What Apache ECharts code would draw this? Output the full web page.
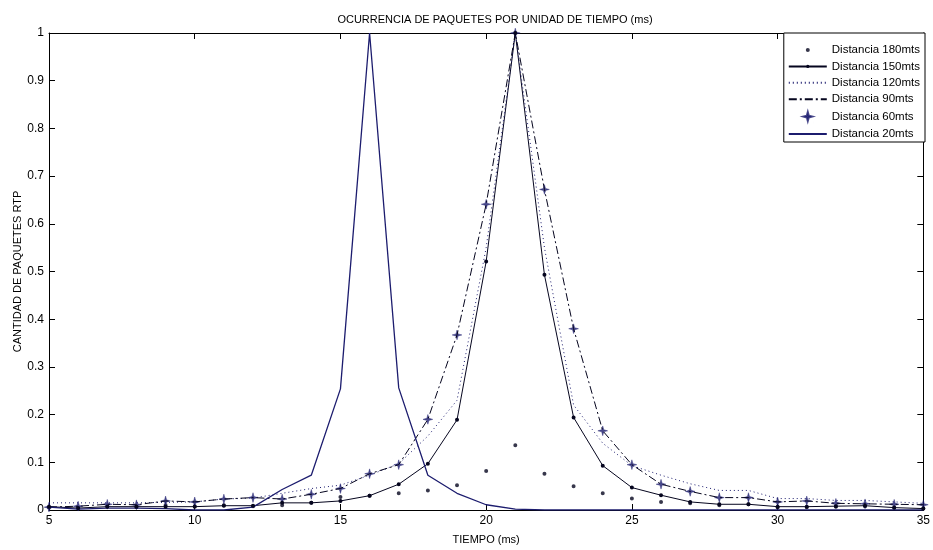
<!DOCTYPE html>
<html>
<head>
<meta charset="utf-8">
<title>Ocurrencia de paquetes</title>
<script src="https://cdn.jsdelivr.net/npm/echarts@6/dist/echarts.min.js"></script>
<style>
  html, body { margin: 0; padding: 0; background: #fff; }
  #chart { width: 933px; height: 550px; }
</style>
</head>
<body>
<div id="chart"></div>
<script>
// eje x: tiempo (ms)
const tiempo = [5, 6, 7, 8, 9, 10, 11, 12, 13, 14, 15, 16, 17, 18, 19, 20,
  21, 22, 23, 24, 25, 26, 27, 28, 29, 30, 31, 32, 33, 34, 35];

// valores
const d180 = [0.005, 0.003, 0.008, 0.006, 0.010, 0.008, 0.010, 0.008, 0.010, 0.015, 0.027, 0.030,
  0.035, 0.041, 0.052, 0.082, 0.136, 0.076, 0.050, 0.035, 0.024, 0.017, 0.014, 0.010,
  0.012, 0.005, 0.006, 0.007, 0.008, 0.004, 0.003];
const d150 = [0.007, 0.004, 0.007, 0.007, 0.007, 0.007, 0.009, 0.009, 0.015, 0.015, 0.019, 0.030,
  0.054, 0.097, 0.189, 0.521, 1.0, 0.493, 0.194, 0.093, 0.047, 0.031, 0.017, 0.012,
  0.012, 0.007, 0.007, 0.008, 0.009, 0.005, 0.003];
const d120 = [0.015, 0.015, 0.015, 0.015, 0.016, 0.017, 0.023, 0.025, 0.035, 0.045, 0.052, 0.073,
  0.097, 0.155, 0.230, 0.550, 1.0, 0.550, 0.220, 0.140, 0.093, 0.073, 0.055, 0.041,
  0.041, 0.024, 0.024, 0.020, 0.020, 0.017, 0.014];
const d90 = [0.006, 0.008, 0.012, 0.011, 0.019, 0.017, 0.023, 0.026, 0.023, 0.033, 0.045, 0.076,
  0.095, 0.190, 0.367, 0.641, 1.0, 0.672, 0.380, 0.166, 0.095, 0.054, 0.039, 0.026,
  0.026, 0.017, 0.019, 0.014, 0.013, 0.012, 0.011];
const d60 = [0.006, 0.008, 0.012, 0.011, 0.019, 0.017, 0.023, 0.026, 0.023, 0.033, 0.045, 0.076,
  0.095, 0.190, 0.367, 0.641, 1.0, 0.672, 0.380, 0.166, 0.095, 0.054, 0.039, 0.026,
  0.026, 0.017, 0.019, 0.014, 0.013, 0.012, 0.011];
const d20 = [0.006, 0.002, 0.004, 0.004, 0.003, 0.0, 0.0, 0.006, 0.043, 0.073, 0.254, 1.0,
  0.256, 0.073, 0.035, 0.011, 0.002, 0.0, 0.0, 0.0, 0.0, 0.0, 0.0, 0.0,
  0.0, 0.0, 0.0, 0.0, 0.0, 0.0, 0.0];

const xTicks = [5, 35, 5];      // min, max, intervalo
const yTicks = [0, 1, 0.1];

const pares = (vals) => tiempo.map((t, i) => [t, vals[i]]);

const NAVY = "#1c1c6e";
const DARK = "#05051e";
const FONT = "Liberation Sans, Arial, sans-serif";

// punto pequeño dentro de una caja cuadrada (para que la leyenda no lo agrande)
const punto = "path://M-6,-6 L-5.99,-6 M6,6 L5.99,6 M-2,0 A2,2 0 1 1 2,0 A2,2 0 1 1 -2,0 Z";
// estrella de 4 puntas (marcador '*' de matlab), tambien con margen
const estrella = "path://M-8,-8 L-7.99,-8 M8,8 L7.99,8 M0,-6 L1.3,-1.3 L6,0 L1.3,1.3 L0,6 L-1.3,1.3 L-6,0 L-1.3,-1.3 Z";

const chart = echarts.init(document.getElementById("chart"));

const ejeX = (pos, labels) => ({
  type: "value",
  position: pos,
  min: xTicks[0],
  max: xTicks[1],
  interval: xTicks[2],
  axisLine: { show: true, onZero: false, lineStyle: { color: "#000", width: 1 } },
  axisTick: { show: true, inside: true, length: 6, lineStyle: { color: "#000" } },
  axisLabel: { show: labels, color: "#000", fontSize: 12, fontFamily: FONT, margin: 5 },
  splitLine: { show: false },
});

const ejeY = (pos, labels) => ({
  type: "value",
  position: pos,
  min: yTicks[0],
  max: yTicks[1],
  interval: yTicks[2],
  axisLine: { show: true, onZero: false, lineStyle: { color: "#000", width: 1 } },
  axisTick: { show: true, inside: true, length: 6, lineStyle: { color: "#000" } },
  axisLabel: {
    show: labels, color: "#000", fontSize: 12, fontFamily: FONT, margin: 5,
    formatter: (v) => (Math.round(v * 10) / 10).toString(),
  },
  splitLine: { show: false },
});

const sinMarca = { opacity: 0 };

const option = {
  animation: false,
  backgroundColor: "#fff",
  title: {
    text: "OCURRENCIA DE PAQUETES POR UNIDAD DE TIEMPO (ms)",
    left: 490,
    top: 9,
    textAlign: "center",
    textStyle: { fontSize: 11, fontWeight: "normal", color: "#000", fontFamily: FONT },
  },
  grid: { left: 49, right: 1, top: 33, bottom: 35 },
  legend: {
    orient: "vertical",
    right: 8,
    top: 33,
    backgroundColor: "#fff",
    borderColor: "#000",
    borderWidth: 1,
    borderRadius: 0,
    padding: [11, 5, 2, 4],
    itemWidth: 38,
    itemHeight: 12,
    itemGap: 4.4,
    textStyle: { fontSize: 11.5, color: "#000", fontFamily: FONT },
    data: [
      { name: "Distancia 180mts" },
      { name: "Distancia 150mts" },
      { name: "Distancia 120mts", itemStyle: sinMarca },
      { name: "Distancia 90mts", itemStyle: sinMarca },
      { name: "Distancia 60mts" },
      { name: "Distancia 20mts", itemStyle: sinMarca },
    ],
  },
  xAxis: [
    Object.assign(ejeX("bottom", true), {
      name: "TIEMPO (ms)",
      nameLocation: "middle",
      nameGap: 24,
      nameMoveOverlap: false,
      nameTextStyle: { fontSize: 11, color: "#000", fontFamily: FONT },
    }),
    ejeX("top", false),
  ],
  yAxis: [
    Object.assign(ejeY("left", true), {
      name: "CANTIDAD DE PAQUETES RTP",
      nameLocation: "middle",
      nameGap: 26,
      nameMoveOverlap: false,
      nameTextStyle: { fontSize: 11, color: "#000", fontFamily: FONT },
    }),
    ejeY("right", false),
  ],
  series: [
    {
      name: "Distancia 180mts",
      type: "scatter",
      data: pares(d180),
      symbol: punto,
      symbolSize: 12,
      itemStyle: { color: DARK },
    },
    {
      name: "Distancia 150mts",
      type: "line",
      data: pares(d150),
      symbol: punto,
      symbolSize: 12,
      itemStyle: { color: DARK },
      lineStyle: { color: DARK, width: 1 },
    },
    {
      name: "Distancia 120mts",
      type: "line",
      data: pares(d120),
      symbol: "none",
      itemStyle: { color: NAVY },
      lineStyle: { color: NAVY, width: 1, type: [1, 3] },
    },
    {
      name: "Distancia 90mts",
      type: "line",
      data: pares(d90),
      symbol: "none",
      itemStyle: { color: DARK },
      lineStyle: { color: DARK, width: 1, type: [8, 3, 2, 3] },
    },
    {
      name: "Distancia 60mts",
      type: "scatter",
      data: pares(d60),
      symbol: estrella,
      symbolSize: 13,
      itemStyle: { color: NAVY, borderColor: NAVY, borderWidth: 0.5 },
    },
    {
      name: "Distancia 20mts",
      type: "line",
      data: pares(d20),
      symbol: "none",
      itemStyle: { color: NAVY },
      lineStyle: { color: NAVY, width: 1.3 },
    },
  ],
};

chart.setOption(option);
window.addEventListener("resize", () => chart.resize());
</script>
</body>
</html>
